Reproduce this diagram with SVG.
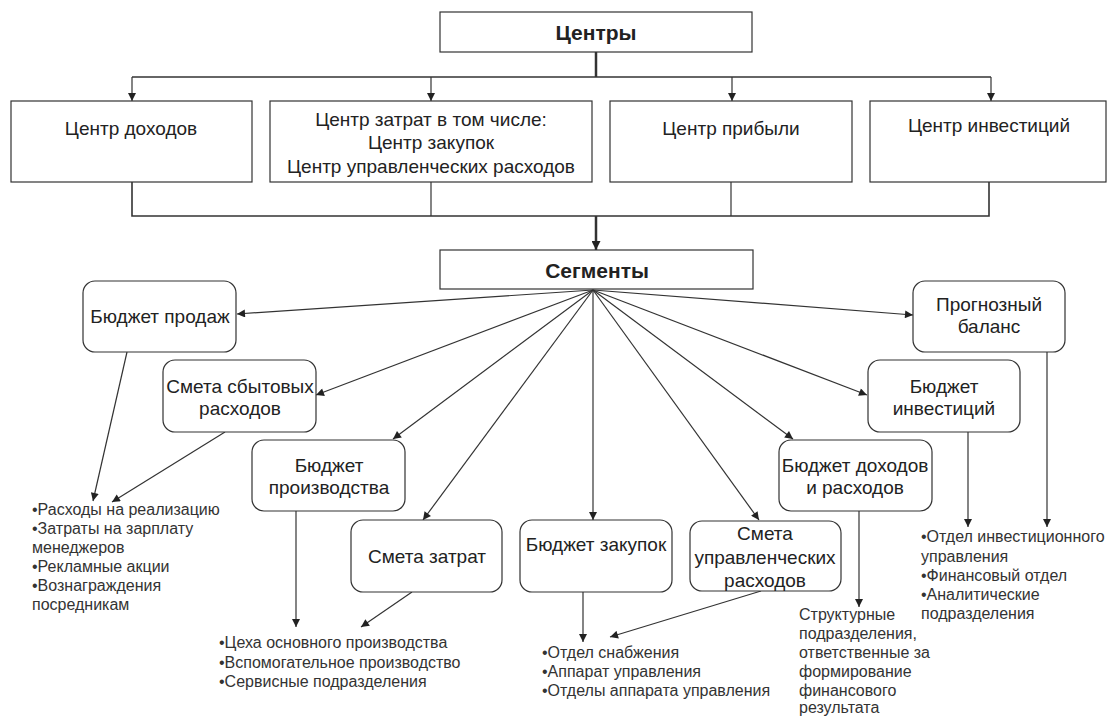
<svg xmlns="http://www.w3.org/2000/svg" width="1107" height="717" viewBox="0 0 1107 717">
<style>
.box{fill:#fff;stroke:#333;stroke-width:1.2}
.rbox{fill:#fff;stroke:#333;stroke-width:1.2}
.t{font-family:"Liberation Sans",Arial,sans-serif;fill:#222;text-anchor:middle}
.tc{font-size:19px}
.tb{font-size:21px;font-weight:bold}
.tr{font-size:19px}
.l{font-family:"Liberation Sans",Arial,sans-serif;fill:#333;font-size:16px}
.ln{fill:none;stroke:#333;stroke-width:1.2}
.thick{fill:none;stroke:#333;stroke-width:2.5}
</style>
<defs>
<marker id="a" viewBox="0 0 10 10" refX="10" refY="5" markerWidth="9" markerHeight="8" orient="auto" markerUnits="userSpaceOnUse">
<path d="M0,0 L10,5 L0,10 z" fill="#222"/>
</marker>
<marker id="ab" viewBox="0 0 10 10" refX="10" refY="5" markerWidth="10" markerHeight="9" orient="auto" markerUnits="userSpaceOnUse">
<path d="M0,0 L10,5 L0,10 z" fill="#222"/>
</marker>
</defs>

<g id="connectors">
<path class="thick" d="M596,52 V77"/>
<path class="ln" d="M132,77 H991" style="stroke-width:1.6"/>
<path class="ln" d="M132,77 V101" marker-end="url(#a)"/>
<path class="ln" d="M431,77 V101" marker-end="url(#a)"/>
<path class="ln" d="M732,77 V101" marker-end="url(#a)"/>
<path class="ln" d="M991,77 V101" marker-end="url(#a)"/>
<path class="ln" d="M132,182 V216 H989 V182" style="stroke-width:1.6"/>
<path class="ln" d="M431,182 V216"/>
<path class="ln" d="M731,182 V216"/>
<path class="thick" d="M596,216 V250" marker-end="url(#ab)"/>

<path class="ln" d="M593,290 L237,314" marker-end="url(#a)"/>
<path class="ln" d="M593,290 L316,395" marker-end="url(#a)"/>
<path class="ln" d="M593,290 L393,439" marker-end="url(#a)"/>
<path class="ln" d="M593,290 L423,520" marker-end="url(#a)"/>
<path class="ln" d="M593,290 L593,520" marker-end="url(#a)"/>
<path class="ln" d="M593,290 L759,520" marker-end="url(#a)"/>
<path class="ln" d="M593,290 L793,439" marker-end="url(#a)"/>
<path class="ln" d="M593,290 L867,395" marker-end="url(#a)"/>
<path class="ln" d="M593,290 L913,315" marker-end="url(#a)"/>

<path class="ln" d="M127,352 L93,501" marker-end="url(#a)"/>
<path class="ln" d="M225,432 L112,502" marker-end="url(#a)"/>
<path class="ln" d="M296,511 V627" marker-end="url(#a)"/>
<path class="ln" d="M412,592 L361,627" marker-end="url(#a)"/>
<path class="ln" d="M583,592 V642" marker-end="url(#a)"/>
<path class="ln" d="M761,591 L610,637" marker-end="url(#a)"/>
<path class="ln" d="M859,511 V607" marker-end="url(#a)"/>
<path class="ln" d="M968,432 V527" marker-end="url(#a)"/>
<path class="ln" d="M1047,352 V527" marker-end="url(#a)"/>
</g>

<g id="centers">
<rect class="box" x="440" y="12" width="312" height="40"/>
<text class="t tb" x="596" y="40">Центры</text>
</g>
<g id="income-center">
<rect class="box" x="11" y="101" width="241" height="81"/>
<text class="t tc" x="131" y="135">Центр доходов</text>
</g>
<g id="cost-center">
<rect class="box" x="270" y="101" width="322" height="81"/>
<text class="t tc" x="431" y="126">Центр затрат в том числе:</text>
<text class="t tc" x="431" y="149">Центр закупок</text>
<text class="t tc" x="431" y="173">Центр управленческих расходов</text>
</g>
<g id="profit-center">
<rect class="box" x="610" y="101" width="242" height="81"/>
<text class="t tc" x="731" y="135">Центр прибыли</text>
</g>
<g id="investment-center">
<rect class="box" x="870" y="101" width="236" height="81"/>
<text class="t tc" x="989" y="132">Центр инвестиций</text>
</g>
<g id="segments">
<rect class="box" x="440" y="250" width="313" height="39"/>
<text class="t tb" x="597" y="278">Сегменты</text>
</g>

<g id="sales-budget">
<rect class="rbox" x="83" y="281" width="153" height="71" rx="12"/>
<text class="t tr" x="160" y="323">Бюджет продаж</text>
</g>
<g id="selling-costs">
<rect class="rbox" x="163" y="360" width="153" height="72" rx="12"/>
<text class="t tr" x="240" y="393">Смета сбытовых</text>
<text class="t tr" x="240" y="415">расходов</text>
</g>
<g id="production-budget">
<rect class="rbox" x="252" y="440" width="153" height="71" rx="12"/>
<text class="t tr" x="329" y="472">Бюджет</text>
<text class="t tr" x="329" y="494">производства</text>
</g>
<g id="cost-estimate">
<rect class="rbox" x="351" y="520" width="151" height="72" rx="12"/>
<text class="t tr" x="427" y="563">Смета затрат</text>
</g>
<g id="purchase-budget">
<rect class="rbox" x="520" y="520" width="152" height="72" rx="12"/>
<text class="t tr" x="596" y="551">Бюджет закупок</text>
</g>
<g id="admin-costs">
<rect class="rbox" x="690" y="521" width="151" height="70" rx="12"/>
<text class="t tr" x="765" y="540">Смета</text>
<text class="t tr" x="765" y="564">управленческих</text>
<text class="t tr" x="765" y="587">расходов</text>
</g>
<g id="income-expense-budget">
<rect class="rbox" x="779" y="440" width="153" height="71" rx="12"/>
<text class="t tr" x="855" y="472">Бюджет доходов</text>
<text class="t tr" x="855" y="494">и расходов</text>
</g>
<g id="investment-budget">
<rect class="rbox" x="868" y="360" width="152" height="72" rx="12"/>
<text class="t tr" x="944" y="393">Бюджет</text>
<text class="t tr" x="944" y="415">инвестиций</text>
</g>
<g id="forecast-balance">
<rect class="rbox" x="913" y="281" width="152" height="71" rx="12"/>
<text class="t tr" x="989" y="311">Прогнозный</text>
<text class="t tr" x="989" y="333">баланс</text>
</g>

<g id="list-sales">
<text class="l" x="32" y="515">•Расходы на реализацию</text>
<text class="l" x="32" y="534">•Затраты на зарплату</text>
<text class="l" x="32" y="553">менеджеров</text>
<text class="l" x="32" y="572">•Рекламные акции</text>
<text class="l" x="32" y="591">•Вознаграждения</text>
<text class="l" x="32" y="610">посредникам</text>
</g>
<g id="list-production">
<text class="l" x="219" y="648">•Цеха основного производства</text>
<text class="l" x="219" y="668">•Вспомогательное производство</text>
<text class="l" x="219" y="687">•Сервисные подразделения</text>
</g>
<g id="list-purchase">
<text class="l" x="542" y="658">•Отдел снабжения</text>
<text class="l" x="542" y="677">•Аппарат управления</text>
<text class="l" x="542" y="696">•Отделы аппарата управления</text>
</g>
<g id="list-result">
<text class="l" x="799" y="620">Структурные</text>
<text class="l" x="799" y="639">подразделения,</text>
<text class="l" x="799" y="658">ответственные за</text>
<text class="l" x="799" y="677">формирование</text>
<text class="l" x="799" y="696">финансового</text>
<text class="l" x="799" y="713">результата</text>
</g>
<g id="list-investment">
<text class="l" x="921" y="542">•Отдел инвестиционного</text>
<text class="l" x="921" y="562">управления</text>
<text class="l" x="921" y="581">•Финансовый отдел</text>
<text class="l" x="921" y="600">•Аналитические</text>
<text class="l" x="921" y="619">подразделения</text>
</g>
</svg>
